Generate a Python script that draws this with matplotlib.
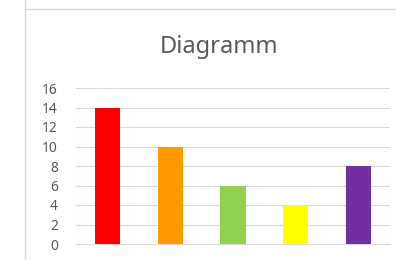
import matplotlib.pyplot as plt
from matplotlib.lines import Line2D

categories = ['A', 'B', 'C', 'D', 'E']
values = [14, 10, 6, 4, 8]
colors = ['#FF0000', '#FF9900', '#92D050', '#FFFF00', '#7030A0']
yticks = [0, 2, 4, 6, 8, 10, 12, 14, 16]

plt.rcParams['font.family'] = ['Noto Sans', 'DejaVu Sans']

W, H = 396, 260
fig = plt.figure(figsize=(W / 100, H / 100), dpi=100)
fig.patch.set_facecolor('white')

# chart frame (cut off at right and bottom)
fig.add_artist(Line2D([25 / W, 25 / W], [0, 1], color='#d9d9d9', lw=1))
fig.add_artist(Line2D([25 / W, 1], [(H - 9) / H, (H - 9) / H], color='#d9d9d9', lw=1))

ax = fig.add_axes([76 / W, 16 / H, 314 / W, 156 / H])
x = range(len(categories))
ax.bar(x, values, width=0.4, color=colors, zorder=3)
ax.set_xlim(-0.5, len(categories) - 0.5)
ax.set_ylim(0, 16)
ax.set_yticks(yticks)
ax.yaxis.grid(True, color='#d9d9d9', lw=0.8)
ax.set_axisbelow(True)
for s in ['top', 'right', 'left']:
    ax.spines[s].set_visible(False)
ax.spines['bottom'].set_color('#d9d9d9')
ax.set_xticks([])
ax.tick_params(axis='y', length=0, labelsize=10, labelcolor='#595959', pad=13)

fig.text(219 / W, (H - 53) / H, 'Diagramm', ha='center', va='baseline',
         fontsize=17, color='#595959')

fig.savefig('out.png', dpi=100)
